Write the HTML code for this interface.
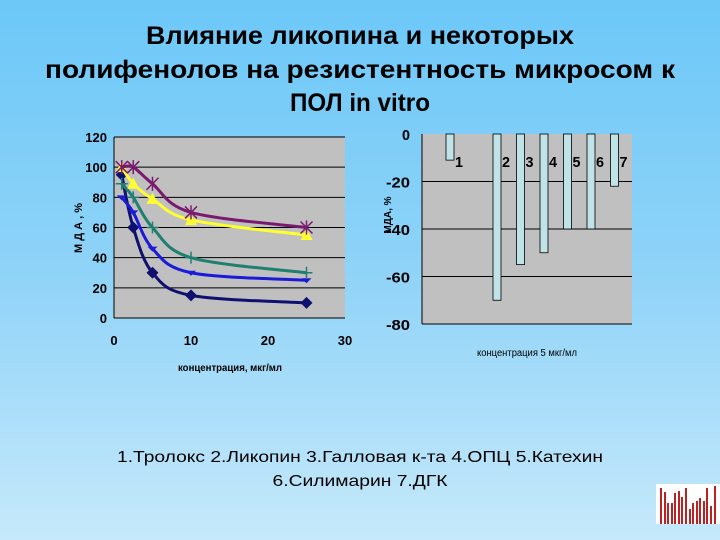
<!DOCTYPE html>
<html><head><meta charset="utf-8"><style>
html,body{margin:0;padding:0;width:720px;height:540px;overflow:hidden}
body{background:linear-gradient(#6cc8f8,#8fd3f8 50%,#c6e9fb);font-family:"Liberation Sans","Noto Sans CJK SC",sans-serif}
text{font-family:"Liberation Sans","Noto Sans CJK SC",sans-serif}
</style></head><body>
<svg id="s" width="720" height="540" xmlns="http://www.w3.org/2000/svg">
<g font-weight="bold" font-size="25" text-anchor="middle" fill="#000">
<text x="360" y="44" textLength="428" lengthAdjust="spacingAndGlyphs">Влияние ликопина и некоторых</text>
<text x="360" y="78" textLength="630" lengthAdjust="spacingAndGlyphs">полифенолов на резистентность микросом к</text>
<text x="360" y="111" textLength="140" lengthAdjust="spacingAndGlyphs">ПОЛ in vitro</text>
</g>
<g id="left"></g>
<g id="right"></g>
<g font-size="16" text-anchor="middle">
<text x="360" y="462" textLength="486" lengthAdjust="spacingAndGlyphs">1.Тролокс  2.Ликопин 3.Галловая к-та 4.ОПЦ 5.Катехин</text>
<text x="360" y="486" textLength="175" lengthAdjust="spacingAndGlyphs">6.Силимарин 7.ДГК</text>
</g>
<g>
<rect x="656" y="484" width="64" height="40" fill="#fff"/>
<g fill="#b22"><rect x="660" y="488" width="2" height="36"/><rect x="664" y="492" width="2" height="32"/><rect x="667" y="503" width="2" height="21"/><rect x="671" y="503" width="2" height="21"/><rect x="674" y="493" width="2" height="31"/><rect x="678" y="491" width="2" height="33"/><rect x="681" y="497" width="2" height="27"/><rect x="685" y="488" width="2" height="36"/><rect x="689" y="509" width="2" height="15"/><rect x="692" y="503" width="2" height="21"/><rect x="696" y="501" width="2" height="23"/><rect x="699" y="498" width="2" height="26"/><rect x="703" y="501" width="2" height="23"/><rect x="706" y="488" width="2" height="36"/><rect x="710" y="506" width="2" height="18"/><rect x="714" y="486" width="2" height="38"/></g>
</g>
</svg>
<script>
const NS='http://www.w3.org/2000/svg';
function mk(p,t,a){const e=document.createElementNS(NS,t);for(const k in a)e.setAttribute(k,a[k]);p.appendChild(e);return e;}
// ---- line chart data ----
const xVals=[1,2.5,5,10,25];
const trolox=[95,60,30,15,10];
const lycopene=[80,70,46,30,25];
const gallic=[89,80,60,40,30];
const opc=[100,89,79,65,55];
const catechin=[100,100,89,70,60];
const xTicks=[0,10,20,30];
const yTicks=[0,20,40,60,80,100,120];
// ---- bar chart data ----
const barLabels=['1','2','3','4','5','6','7'];
const barVals=[-11,-70,-55,-50,-40,-40,-22];
const barTicks=[0,-20,-40,-60,-80];

const L=document.getElementById('left');
const lx=v=>114+v*(345-114)/30, ly=v=>318-v*(318-137)/120;
let r=mk(L,'rect',{x:114,y:137,width:231,height:181,fill:'#c0c0c0'});

yTicks.forEach(t=>{if(t>0){const g=mk(L,'line',{x1:114,x2:345,y1:ly(t),y2:ly(t),stroke:'#000','stroke-width':1});}
const tx=mk(L,'text',{x:107,y:ly(t)+5,'text-anchor':'end','font-size':13,'font-weight':'bold'});tx.textContent=t;});
xTicks.forEach(t=>{const tx=mk(L,'text',{x:lx(t),y:345,'text-anchor':'middle','font-size':13,'font-weight':'bold'});tx.textContent=t;});
mk(L,'line',{x1:114,x2:114,y1:137,y2:318,stroke:'#000'});mk(L,'line',{x1:114,x2:345,y1:318,y2:318,stroke:'#000'});
let t1=mk(L,'text',{x:230,y:371,'text-anchor':'middle','font-size':10,'font-weight':'bold',textLength:104,lengthAdjust:'spacingAndGlyphs'});t1.textContent='концентрация, мкг/мл';
let t2=mk(L,'text',{x:0,y:0,'text-anchor':'middle','font-size':11,'font-weight':'bold',transform:'translate(82,228) rotate(-90)'});t2.textContent='М Д А , %';
function smooth(pts){let d='M'+pts[0][0]+','+pts[0][1];for(let i=0;i<pts.length-1;i++){const p0=pts[i-1]||pts[i],p1=pts[i],p2=pts[i+1],p3=pts[i+2]||p2;
d+=' C'+(p1[0]+(p2[0]-p0[0])/6)+','+(p1[1]+(p2[1]-p0[1])/6)+' '+(p2[0]-(p3[0]-p1[0])/6)+','+(p2[1]-(p3[1]-p1[1])/6)+' '+p2[0]+','+p2[1];}return d;}
const series=[[trolox,'#10106e','diamond','series-trolox'],[lycopene,'#1a1ad8','tri','series-lycopene'],[gallic,'#1f7f70','plus','series-gallic-acid'],[opc,'#ffff30','triangle','series-opc'],[catechin,'#7a1a6e','star','series-catechin']];
series.forEach(([vals,c,m,n])=>{const pts=vals.map((v,i)=>[lx(xVals[i]),ly(v)]);
const p=mk(L,'path',{d:smooth(pts),fill:'none',stroke:c,'stroke-width':3});
pts.forEach(([x,y])=>{let e;
if(m==='diamond')e=mk(L,'path',{d:`M${x},${y-6}L${x+6},${y}L${x},${y+6}L${x-6},${y}Z`,fill:c});
else if(m==='triangle')e=mk(L,'path',{d:`M${x},${y-6}L${x+6},${y+5}L${x-6},${y+5}Z`,fill:c});
else if(m==='tri')e=mk(L,'path',{d:`M${x-5},${y-2}L${x+5},${y-2}L${x},${y+3}Z`,fill:c});
else if(m==='plus')e=mk(L,'path',{d:`M${x-6},${y}H${x+6}M${x},${y-6}V${x+0*0+y+6-y+y}`.replace(/V.*$/,'V'+(y+6)),stroke:c,'stroke-width':1.5});
else e=mk(L,'path',{d:`M${x-6},${y-6}L${x+6},${y+6}M${x+6},${y-6}L${x-6},${y+6}M${x},${y-7}V${y+7}`,stroke:c,'stroke-width':1.5});
});});

const R=document.getElementById('right');
const by=v=>134+(-v)*(324-134)/80, bx=i=>446+(i===0?0:i+1)*23.5;
r=mk(R,'rect',{x:422,y:134,width:210,height:190,fill:'#c0c0c0'});
barTicks.forEach(t=>{if(t<0){const g=mk(R,'line',{x1:422,x2:632,y1:by(t),y2:by(t),stroke:'#000'});}
const tx=mk(R,'text',{x:410,y:by(t)+6,'text-anchor':'end','font-size':15,'font-weight':'bold',textLength:String(t).length*8,lengthAdjust:'spacingAndGlyphs'});tx.textContent=t;});
mk(R,'line',{x1:422,x2:422,y1:134,y2:324,stroke:'#000'});
barVals.forEach((v,i)=>{const x=bx(i);const b=mk(R,'rect',{x:x,y:by(0),width:8,height:by(v)-by(0),fill:'#bfe3e6',stroke:'#000','stroke-width':0.8});

const tx=mk(R,'text',{x:x+9,y:167,'font-size':15,'font-weight':'bold',textLength:8,lengthAdjust:'spacingAndGlyphs'});tx.textContent=barLabels[i];});
let t3=mk(R,'text',{x:527,y:356,'text-anchor':'middle','font-size':10,textLength:100,lengthAdjust:'spacingAndGlyphs'});t3.textContent='концентрация 5 мкг/мл';
let t4=mk(R,'text',{x:0,y:0,'text-anchor':'middle','font-size':10,'font-weight':'bold',transform:'translate(391,215) rotate(-90)'});t4.textContent='МДА, %';
</script>
</body></html>
